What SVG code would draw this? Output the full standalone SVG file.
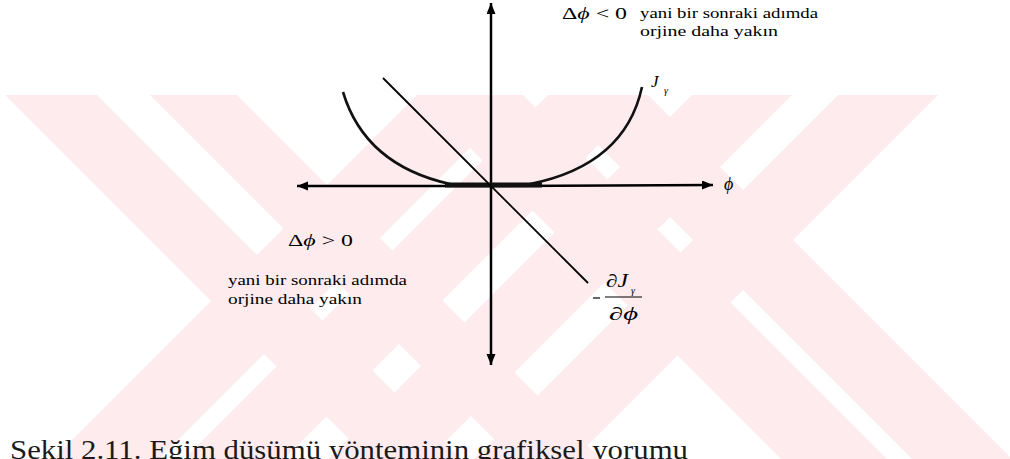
<svg xmlns="http://www.w3.org/2000/svg" width="1010" height="459" viewBox="0 0 1010 459">
<defs>
<style>
.wm{fill:#fdebee}
.ax{stroke:#000;stroke-width:2.5;fill:none}
.cv{stroke:#111;stroke-width:2.6;fill:none}
</style>
<clipPath id="wmclip"><rect x="0" y="95" width="1010" height="364"/></clipPath>
<marker id="ah" markerUnits="userSpaceOnUse" markerWidth="12" markerHeight="10" refX="11" refY="4.5" orient="auto">
<path d="M0,0 L11,4.5 L0,9 z" fill="#000"/>
</marker>
</defs>
<rect width="1010" height="459" fill="#fff"/>
<g id="watermark" class="wm" clip-path="url(#wmclip)">
<polygon points="5,95 97,95 461,459 369,459"/>
<polygon points="150,95 237,95 601,459 514,459"/>
<polygon points="417,95 523,95 159,459 53,459"/>
<polygon points="417,95 523,95 887,459 781,459"/>
<polygon points="548,95 648,95 284,459 184,459"/>
<polygon points="548,95 648,95 1012,459 912,459"/>
<polygon points="692,95 792,95 428,459 328,459"/>
<polygon points="838,95 938,95 574,459 474,459"/>
</g>
<g id="connectors">
<line class="ax" x1="491" y1="186" x2="491" y2="3" marker-end="url(#ah)"/>
<line class="ax" x1="491" y1="186" x2="491" y2="365" marker-end="url(#ah)"/>
<line class="ax" x1="491" y1="186" x2="297" y2="186" marker-end="url(#ah)"/>
<line class="ax" x1="491" y1="186" x2="713" y2="185" marker-end="url(#ah)"/>
</g>
<g id="curve">
<path class="cv" d="M343,92 Q365,165 450,184 L491,185 L530,184 Q625,165 642,87"/>
<line x1="445" y1="185" x2="542" y2="185" stroke="#111" stroke-width="5"/>
</g>
<g id="gradient-line">
<line x1="383" y1="78" x2="588" y2="283" stroke="#000" stroke-width="1.8"/>
</g>
<g font-family="'Liberation Serif', serif" fill="#000">
<g id="label-phi">
<text x="724" y="190" font-size="18" font-style="italic">ϕ</text>
</g>
<g id="label-J">
<text x="651" y="87" font-size="17" font-style="italic">J</text>
<text x="664" y="94" font-size="10" font-style="italic">γ</text>
</g>
<g id="label-top">
<text x="562" y="19" font-size="16" textLength="65" lengthAdjust="spacingAndGlyphs">Δ<tspan font-style="italic">ϕ</tspan> &lt; 0</text>
<text x="640" y="18" font-size="15" textLength="178" lengthAdjust="spacingAndGlyphs">yani bir sonraki adımda</text>
<text x="640" y="36" font-size="15" textLength="138" lengthAdjust="spacingAndGlyphs">orjine daha yakın</text>
</g>
<g id="label-bottom">
<text x="288" y="246" font-size="16" textLength="65" lengthAdjust="spacingAndGlyphs">Δ<tspan font-style="italic">ϕ</tspan> &gt; 0</text>
<text x="228" y="285" font-size="15" textLength="179" lengthAdjust="spacingAndGlyphs">yani bir sonraki adımda</text>
<text x="228" y="304" font-size="15" textLength="134" lengthAdjust="spacingAndGlyphs">orjine daha yakın</text>
</g>
<g id="label-deriv">
<line x1="593" y1="298" x2="600" y2="298" stroke="#000" stroke-width="1.2"/>
<line x1="605" y1="297" x2="642" y2="297" stroke="#000" stroke-width="1.2"/>
<text x="606" y="287" font-size="18" font-style="italic" textLength="22" lengthAdjust="spacingAndGlyphs">∂J</text>
<text x="631" y="294" font-size="10" font-style="italic">γ</text>
<text x="609" y="320" font-size="18" font-style="italic" textLength="29" lengthAdjust="spacingAndGlyphs">∂ϕ</text>
</g>
<g id="caption">
<text x="10" y="459" font-size="28" fill="#1a1a1a" textLength="678" lengthAdjust="spacingAndGlyphs">Şekil 2.11. Eğim düşümü yönteminin grafiksel yorumu</text>
</g>
</g>
</svg>
